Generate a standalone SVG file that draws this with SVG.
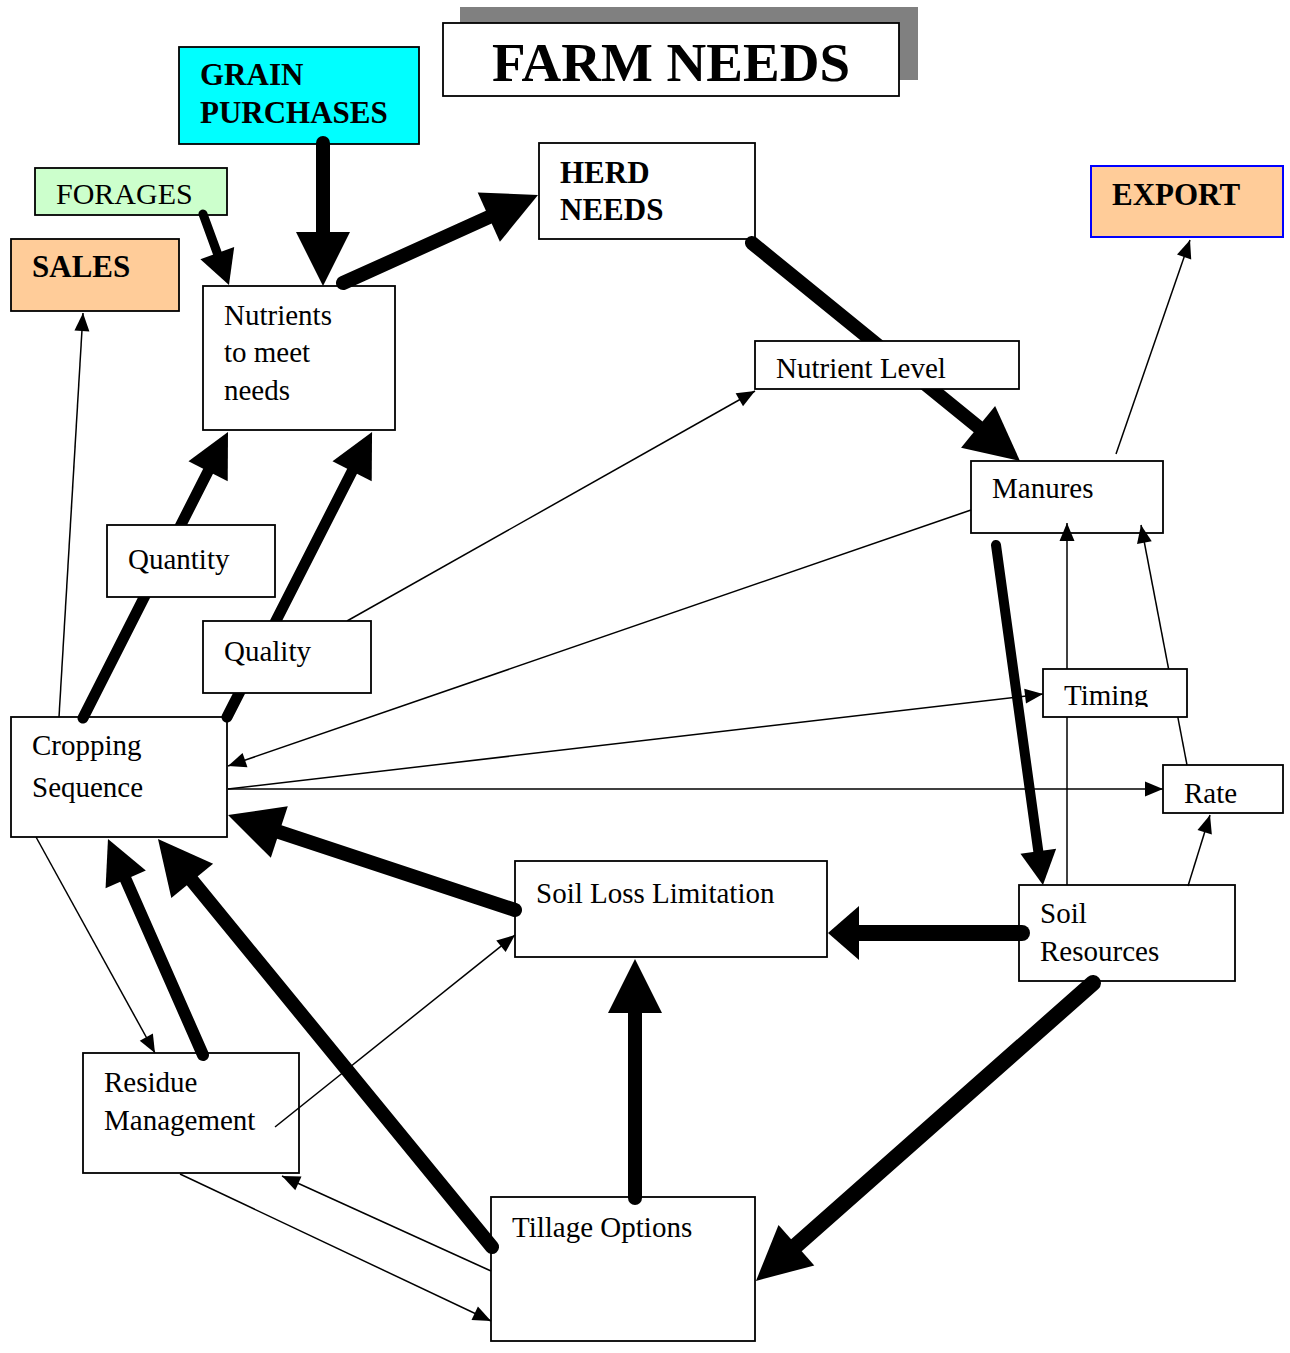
<svg xmlns="http://www.w3.org/2000/svg" width="1290" height="1353" viewBox="0 0 1290 1353">
<style>
.box{fill:#ffffff;stroke:#000000;stroke-width:1.8}
.t{font-family:"Liberation Serif","Times New Roman",serif;font-size:29px;fill:#000000}
.b{font-family:"Liberation Serif","Times New Roman",serif;font-size:31px;font-weight:bold;fill:#000000}
.thin{stroke:#000000;stroke-width:1.5;fill:none;marker-end:url(#thin)}
.thick{stroke:#000000;fill:none;stroke-linecap:round}
</style>
<defs>
<marker id="big" markerUnits="userSpaceOnUse" markerWidth="56" markerHeight="56" viewBox="0 -28 56 56" refX="0" refY="0" orient="auto" overflow="visible"><path d="M0,-27 L54,0 L0,27 z" fill="#000"/></marker>
<marker id="mid" markerUnits="userSpaceOnUse" markerWidth="46" markerHeight="46" viewBox="0 -23 46 46" refX="0" refY="0" orient="auto" overflow="visible"><path d="M0,-22 L44,0 L0,22 z" fill="#000"/></marker>
<marker id="small" markerUnits="userSpaceOnUse" markerWidth="36" markerHeight="38" viewBox="0 -19 36 38" refX="0" refY="0" orient="auto" overflow="visible"><path d="M0,-18 L34,0 L0,18 z" fill="#000"/></marker>
<marker id="wide" markerUnits="userSpaceOnUse" markerWidth="32" markerHeight="56" viewBox="0 -28 32 56" refX="0" refY="0" orient="auto" overflow="visible"><path d="M0,-27 L31,0 L0,27 z" fill="#000"/></marker>
<marker id="thin" markerUnits="userSpaceOnUse" markerWidth="18" markerHeight="16" viewBox="0 -8 18 16" refX="18" refY="0" orient="auto" overflow="visible"><path d="M0,-7.5 L18,0 L0,7.5 z" fill="#000"/></marker>
<clipPath id="timingClip"><rect x="1043" y="669" width="144" height="38"/></clipPath>
</defs>

<g id="title">
<rect x="460" y="7" width="458" height="73" fill="#808080"/>
<rect class="box" x="443" y="23" width="456" height="73"/>
<text x="492" y="81" font-family="'Liberation Serif','Times New Roman',serif" font-size="55" font-weight="bold">FARM NEEDS</text>
</g>
<g id="grain-purchases">
<rect class="box" x="179" y="47" width="240" height="97" style="fill:#00ffff"/>
<text class="b" x="200" y="85">GRAIN</text>
<text class="b" x="200" y="123">PURCHASES</text>
</g>
<g id="forages">
<rect class="box" x="35" y="168" width="192" height="47" style="fill:#ccffcc"/>
<text class="t" x="56" y="204" style="font-size:30px">FORAGES</text>
</g>
<g id="sales">
<rect class="box" x="11" y="239" width="168" height="72" style="fill:#ffcc99"/>
<text class="b" x="32" y="277">SALES</text>
</g>
<g id="nutrients">
<rect class="box" x="203" y="286" width="192" height="144"/>
<text class="t" x="224" y="325">Nutrients</text>
<text class="t" x="224" y="362">to meet</text>
<text class="t" x="224" y="400">needs</text>
</g>
<g id="herd-needs">
<rect class="box" x="539" y="143" width="216" height="96"/>
<text class="b" x="560" y="183">HERD</text>
<text class="b" x="560" y="220">NEEDS</text>
</g>
<g id="export">
<rect class="box" x="1091" y="166" width="192" height="71" style="fill:#ffcc99;stroke:#0000ff;stroke-width:2"/>
<text class="b" x="1112" y="205">EXPORT</text>
</g>
<g id="manures">
<rect class="box" x="971" y="461" width="192" height="72"/>
<text class="t" x="992" y="498">Manures</text>
</g>
<g id="cropping-sequence">
<rect class="box" x="11" y="717" width="216" height="120"/>
<text class="t" x="32" y="755">Cropping</text>
<text class="t" x="32" y="797">Sequence</text>
</g>
<g id="rate">
<rect class="box" x="1163" y="765" width="120" height="48"/>
<text class="t" x="1184" y="803">Rate</text>
</g>
<g id="soil-loss-limitation">
<rect class="box" x="515" y="861" width="312" height="96"/>
<text class="t" x="536" y="903">Soil Loss Limitation</text>
</g>
<g id="soil-resources">
<rect class="box" x="1019" y="885" width="216" height="96"/>
<text class="t" x="1040" y="923">Soil</text>
<text class="t" x="1040" y="961">Resources</text>
</g>
<g id="residue-management">
<rect class="box" x="83" y="1053" width="216" height="120"/>
<text class="t" x="104" y="1092">Residue</text>
<text class="t" x="104" y="1130">Management</text>
</g>
<g id="tillage-options">
<rect class="box" x="491" y="1197" width="264" height="144"/>
<text class="t" x="512" y="1237">Tillage Options</text>
</g>

<g id="connectors">
<line class="thick" x1="323" y1="143" x2="323" y2="232" stroke-width="14" marker-end="url(#big)"/>
<line class="thick" x1="203" y1="214" x2="217.3" y2="253.1" stroke-width="9" marker-end="url(#small)"/>
<line class="thick" x1="343" y1="283" x2="488.8" y2="217.2" stroke-width="14" marker-end="url(#big)"/>
<line class="thick" x1="752" y1="243" x2="978.1" y2="426.9" stroke-width="14" marker-end="url(#big)"/>
<line class="thick" x1="996" y1="545" x2="1038.3" y2="851.3" stroke-width="10" marker-end="url(#small)"/>
<line class="thick" x1="1022" y1="933" x2="859" y2="933" stroke-width="16" marker-end="url(#wide)"/>
<line class="thick" x1="1093" y1="983" x2="796.4" y2="1245.2" stroke-width="16" marker-end="url(#big)"/>
<line class="thick" x1="635" y1="1198" x2="635" y2="1013" stroke-width="14" marker-end="url(#big)"/>
<line class="thick" x1="515" y1="910" x2="279.3" y2="832" stroke-width="14" marker-end="url(#big)"/>
<line class="thick" x1="492" y1="1247" x2="192.2" y2="880.8" stroke-width="14" marker-end="url(#big)"/>
<line class="thick" x1="203" y1="1055" x2="125.7" y2="879.3" stroke-width="12" marker-end="url(#mid)"/>
<line class="thick" x1="83" y1="718" x2="208.1" y2="471.2" stroke-width="11" marker-end="url(#mid)"/>
<line class="thick" x1="227" y1="717" x2="352.1" y2="471.2" stroke-width="11" marker-end="url(#mid)"/>

<line class="thin" x1="59" y1="717" x2="83" y2="313"/>
<line class="thin" x1="347" y1="621" x2="755" y2="391"/>
<line class="thin" x1="971" y1="510" x2="228" y2="766"/>
<line class="thin" x1="228" y1="789" x2="1043" y2="694"/>
<line class="thin" x1="228" y1="789" x2="1163" y2="789"/>
<line class="thin" x1="36" y1="837" x2="155" y2="1053"/>
<line class="thin" x1="275" y1="1127" x2="515" y2="935"/>
<line class="thin" x1="180" y1="1174" x2="491" y2="1321"/>
<line class="thin" x1="491" y1="1271" x2="282" y2="1176"/>
<line class="thin" x1="1067" y1="885" x2="1067" y2="523"/>
<line class="thin" x1="1187" y1="765" x2="1141" y2="525"/>
<line class="thin" x1="1188" y1="886" x2="1210" y2="815"/>
<line class="thin" x1="1116" y1="454" x2="1190" y2="240"/>
</g>

<g id="nutrient-level">
<rect class="box" x="755" y="341" width="264" height="48"/>
<text class="t" x="776" y="378">Nutrient Level</text>
</g>
<g id="quantity">
<rect class="box" x="107" y="525" width="168" height="72"/>
<text class="t" x="128" y="569">Quantity</text>
</g>
<g id="quality">
<rect class="box" x="203" y="621" width="168" height="72"/>
<text class="t" x="224" y="661">Quality</text>
</g>
<g id="timing">
<rect class="box" x="1043" y="669" width="144" height="48"/>
<text class="t" x="1064" y="705" clip-path="url(#timingClip)">Timing</text>
</g>
</svg>
